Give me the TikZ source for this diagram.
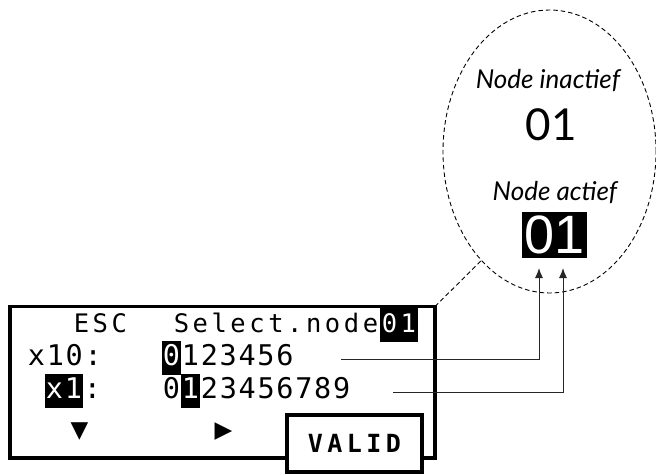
\documentclass[tikz,border=0pt]{standalone}
\usepackage{fontspec}
\setmainfont{DejaVu Sans}
\newfontfamily\lcdfont{DejaVu Sans Mono}
\newfontfamily\geofont{Lato}
\newfontfamily\arialfont{Liberation Sans}
\newfontfamily\symfont{DejaVu Sans}
\usetikzlibrary{shapes.geometric,arrows.meta}
\newlength\lcdpitch
\setlength\lcdpitch{18.9pt}
\makeatletter
\newcommand\lcdstr[1]{\@tfor\lcd@c:=#1\do{\makebox[\lcdpitch]{\lcd@c}}}
\makeatother
\begin{document}
\begin{tikzpicture}[x=1pt,y=-1pt,
  lcd/.style={inner sep=0pt, outer sep=0pt, anchor=base west,
    font=\lcdfont\fontsize{28.5}{28.5}\selectfont, text height=24pt, text depth=10pt},
  lcdsmall/.style={lcd, font=\lcdfont\fontsize{25.5}{25.5}\selectfont},
  hl/.style={fill=black, text=white},
  frame/.style={draw=black, line width=3.6pt, inner sep=0pt, outer sep=0pt},
  bubble/.style={ellipse, draw=black, dashed, dash pattern=on 4.5pt off 3pt,
    line width=0.9pt, inner sep=0pt, outer sep=0pt},
  conn/.style={draw=black!85, line width=1pt, -{Latex[length=10pt,width=8pt]}},
  italab/.style={inner sep=0pt, anchor=base, font=\geofont\itshape\fontsize{26}{26}\selectfont},
  sym/.style={inner sep=0pt, font=\symfont\fontsize{23}{23}\selectfont}
]
\useasboundingbox (0,0) rectangle (656,474);

% bubble
\node[bubble, minimum width=213pt, minimum height=283pt] (bub) at (549.5,151.5) {};
\node[italab] (tin) at (548,88) {Node inactief};
\node[inner sep=0pt, anchor=base, font=\geofont\fontsize{44}{44}\selectfont] (vin) at (551.5,140) {01};
\node[italab] (tac) at (555,200) {Node actief};
\node[hl, inner sep=0pt, minimum width=65pt, minimum height=46pt,
  font=\arialfont\fontsize{54}{54}\selectfont] (vac) at (554.5,235) {01};

% screen
\node[frame, minimum width=425pt, minimum height=151.5pt] (screen) at (222.5,382.25) {};
\draw[bubble] (screen.north east) -- (bub.238);

% row 1
\node[lcdsmall] (esc) at (72,332) {\lcdstr{ESC}};
\node[lcdsmall] (sel) at (172,332) {\lcdstr{Select.node}};
\node[lcdsmall, hl] (sel01) at (380,332) {\lcdstr{01}};
% row 2
\node[lcd] (x10) at (27,365) {\lcdstr{x10:}};
\node[lcd, hl] (d0) at (162,365) {\lcdstr{0}};
\node[lcd] (d1) at (181,365) {\lcdstr{123456}};
% row 3
\node[lcd, hl] (x1) at (45,398) {\lcdstr{x1}};
\node[lcd] (colon) at (83,398) {\lcdstr{:}};
\node[lcd] (e0) at (162,398) {\lcdstr{0}};
\node[lcd, hl] (e1) at (181,398) {\lcdstr{1}};
\node[lcd] (e2) at (200,398) {\lcdstr{23456789}};
% row 4
\node[sym] (down) at (79.5,432) {▼};
\node[sym] (right) at (223.5,432) {▶};
\node[frame, fill=white, minimum width=135pt, minimum height=57pt,
  font=\lcdfont\bfseries\fontsize{25}{25}\selectfont] (valid) at (354.5,443.5)
  {\setlength\lcdpitch{19.5pt}\lcdstr{VALID}};

% connectors
\coordinate (s1) at (341,359);
\coordinate (t1) at (539,268);
\coordinate (s2) at (393,392);
\coordinate (t2) at (563,268);
\draw[conn] (s1) -| (t1);
\draw[conn] (s2) -| (t2);
\end{tikzpicture}
\end{document}
